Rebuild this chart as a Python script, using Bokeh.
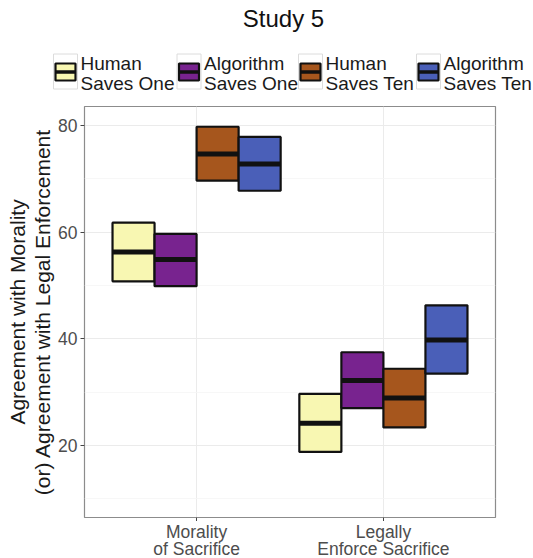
from bokeh.plotting import figure
from bokeh.layouts import column
from bokeh.models import Range1d, FixedTicker, ColumnDataSource
from bokeh.core.properties import value
from bokeh.embed import file_html
from bokeh.resources import INLINE

categories = ["Morality\nof Sacrifice", "Legally\nEnforce Sacrifice"]
groups = ["Human\nSaves One", "Algorithm\nSaves One", "Human\nSaves Ten", "Algorithm\nSaves Ten"]
colors = ["#F8F7B2", "#78238F", "#A6561D", "#4A5FB8"]
means = [[56.3, 24.2], [54.9, 32.2], [74.7, 28.9], [72.8, 39.8]]
lowers = [[50.8, 18.8], [49.9, 27.0], [69.7, 23.4], [67.8, 33.5]]
uppers = [[61.8, 29.7], [59.7, 37.5], [79.8, 34.4], [77.9, 46.3]]
y_ticks = [20, 40, 60, 80]
y_minor = [10, 30, 50, 70]
title = "Study 5"

# layout constants (screen pixels)
W = 533
HEAD_H, FOOT_H = 104, 37
LEFT, RIGHT = 84, 38
legend_key_left = [53, 176.5, 298, 416]
x_lo, x_hi = 0.4, 2.6

FONT = "Liberation Sans"
dodge = 0.9
bw = dodge / len(groups)

# ---- header: title + legend (pixel coordinate space) ----
h = figure(width=W, height=HEAD_H, output_backend="svg", toolbar_location=None,
           x_range=Range1d(0, W), y_range=Range1d(HEAD_H, 0),
           min_border=0, outline_line_color=None)
h.frame_align = False
h.axis.visible = False
h.grid.visible = False
h.text(x=[283], y=[4], text=[title], text_font=value(FONT), text_font_size="24px",
       text_color="#111111", text_align="center", text_baseline="top")

kx = legend_key_left
h.rect(x=[k + 12 for k in kx], y=[71] * 4, width=24, height=35,
       fill_color="white", line_color="#DCDCDC", line_width=1)
h.quad(left=[k + 2 for k in kx], right=[k + 22 for k in kx], top=[63] * 4, bottom=[80] * 4,
       fill_color=colors, line_color="#111111", line_width=2.2)
h.segment(x0=[k + 2 for k in kx], x1=[k + 22 for k in kx], y0=[71.5] * 4, y1=[71.5] * 4,
          line_color="#111111", line_width=3.5)
h.text(x=[k + 27 for k in kx], y=[52.5] * 4, text=groups, text_font=value(FONT),
       text_font_size="19px", text_color="#1A1A1A", text_align="left",
       text_baseline="top", text_line_height=0.96)

# ---- main plot ----
p = figure(width=W, height=558 - HEAD_H - FOOT_H, output_backend="svg", toolbar_location=None,
           x_range=Range1d(x_lo, x_hi), y_range=Range1d(6.5, 83.6),
           min_border_left=LEFT, min_border_right=RIGHT, min_border_top=2, min_border_bottom=4)
p.frame_align = False

for gi, g in enumerate(groups):
    off = -dodge / 2 + bw * (gi + 0.5)
    xs = [ci + 1 + off for ci in range(len(categories))]
    src = ColumnDataSource(dict(left=[x - bw / 2 for x in xs], right=[x + bw / 2 for x in xs],
                                bottom=lowers[gi], top=uppers[gi], mean=means[gi]))
    p.quad(left="left", right="right", bottom="bottom", top="top", source=src,
           fill_color=colors[gi], line_color="#111111", line_width=2.2)
    p.segment(x0="left", x1="right", y0="mean", y1="mean", source=src,
              line_color="#111111", line_width=5)

cat_pos = [i + 1 for i in range(len(categories))]
p.xaxis.ticker = FixedTicker(ticks=cat_pos)
p.xaxis.major_label_overrides = {c: "" for c in cat_pos}
p.xaxis.major_label_text_font_size = "0px"
p.xaxis.major_label_standoff = 0
p.yaxis.ticker = FixedTicker(ticks=y_ticks, minor_ticks=y_minor)
p.xaxis.minor_tick_line_color = None
p.yaxis.minor_tick_line_color = None
for ax in (p.xaxis, p.yaxis):
    ax.axis_line_color = None
    ax.major_tick_line_color = "#444444"
    ax.major_tick_in = 0
    ax.major_tick_out = 4
p.yaxis.major_label_text_font = FONT
p.yaxis.major_label_text_font_size = "17.5px"
p.yaxis.major_label_text_color = "#4D4D4D"
p.yaxis.axis_label_text_font = FONT
p.yaxis.axis_label_text_font_style = "normal"
p.yaxis.axis_label_text_font_size = "21px"
p.yaxis.axis_label_text_color = "#1A1A1A"
p.yaxis.axis_label = "Agreement with Morality\n(or) Agreement with Legal Enforcement"
p.yaxis.axis_label_text_line_height = 1.08
p.yaxis.major_label_standoff = 3
p.yaxis.axis_label_standoff = 1

p.xgrid.grid_line_color = "#EBEBEB"
p.ygrid.grid_line_color = "#EBEBEB"
p.ygrid.minor_grid_line_color = "#F5F5F5"
p.ygrid.minor_grid_line_width = 0.8
p.outline_line_color = "#8C8C8C"
p.outline_line_width = 1.2

# ---- footer: category labels on the same x scale as the plot ----
px_per_unit = (W - LEFT - RIGHT) / (x_hi - x_lo)
f = figure(width=W, height=FOOT_H, output_backend="svg", toolbar_location=None,
           x_range=Range1d(x_lo - LEFT / px_per_unit, x_hi + RIGHT / px_per_unit),
           y_range=Range1d(FOOT_H, 0), min_border=0, outline_line_color=None)
f.frame_align = False
f.axis.visible = False
f.grid.visible = False
f.text(x=cat_pos, y=[0] * len(cat_pos), text=categories, text_font=value(FONT),
       text_font_size="17.5px", text_color="#4D4D4D", text_align="center",
       text_baseline="top", text_line_height=0.88)

layout = column(h, p, f, spacing=0)
open("out.html", "w").write(file_html(layout, INLINE))
